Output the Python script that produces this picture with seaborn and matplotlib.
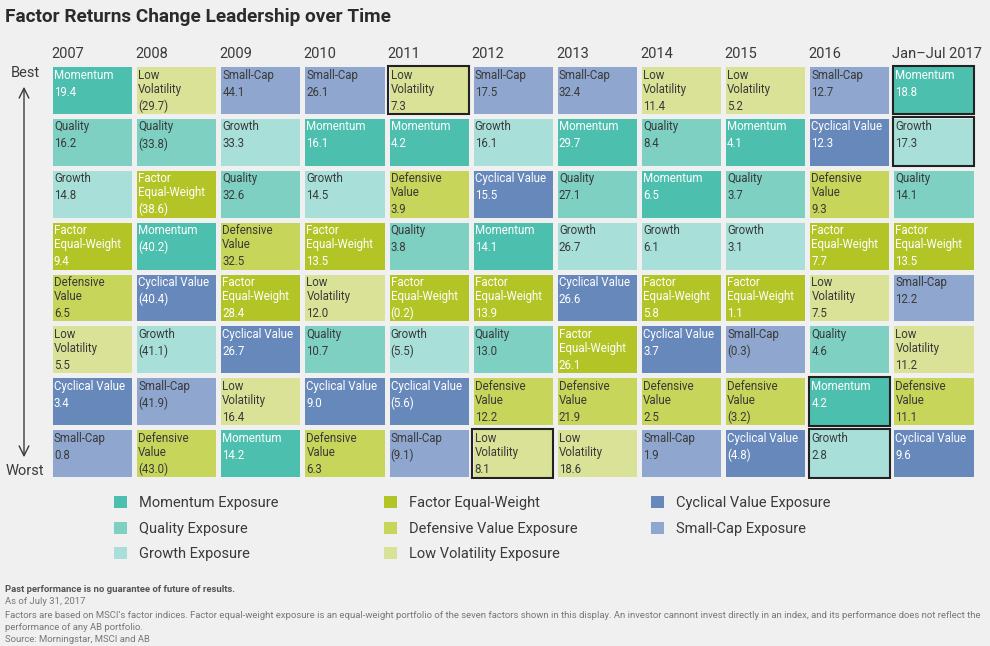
import matplotlib
matplotlib.use("Agg")
import matplotlib.pyplot as plt
from matplotlib.colors import ListedColormap
from matplotlib.patches import Rectangle, Patch
import numpy as np
import pandas as pd
import seaborn as sns

# factor codes, display names and colours
codes = ["MO", "QU", "GR", "FE", "DV", "LV", "CV", "SC"]
cell_names = ["Momentum", "Quality", "Growth", "Factor\nEqual-Weight",
              "Defensive\nValue", "Low\nVolatility", "Cyclical Value", "Small-Cap"]
legend_labels = ["Momentum Exposure", "Quality Exposure", "Growth Exposure",
                 "Factor Equal-Weight", "Defensive Value Exposure",
                 "Low Volatility Exposure", "Cyclical Value Exposure",
                 "Small-Cap Exposure"]
factor_colors = ["#4cbfae", "#7ed0c3", "#a8e0d9", "#b3c526",
                 "#c8d55b", "#d9e296", "#6788bb", "#8fa7cf"]
light_text = ["MO", "FE", "CV"]

years = ["2007", "2008", "2009", "2010", "2011", "2012", "2013",
         "2014", "2015", "2016", "Jan\u2013Jul 2017"]

# ranking best -> worst, and returns (%) in the same order
rank_2007 = ["MO", "QU", "GR", "FE", "DV", "LV", "CV", "SC"]
ret_2007 = [19.4, 16.2, 14.8, 9.4, 6.5, 5.5, 3.4, 0.8]
rank_2008 = ["LV", "QU", "FE", "MO", "CV", "GR", "SC", "DV"]
ret_2008 = [-29.7, -33.8, -38.6, -40.2, -40.4, -41.1, -41.9, -43.0]
rank_2009 = ["SC", "GR", "QU", "DV", "FE", "CV", "LV", "MO"]
ret_2009 = [44.1, 33.3, 32.6, 32.5, 28.4, 26.7, 16.4, 14.2]
rank_2010 = ["SC", "MO", "GR", "FE", "LV", "QU", "CV", "DV"]
ret_2010 = [26.1, 16.1, 14.5, 13.5, 12.0, 10.7, 9.0, 6.3]
rank_2011 = ["LV", "MO", "DV", "QU", "FE", "GR", "CV", "SC"]
ret_2011 = [7.3, 4.2, 3.9, 3.8, -0.2, -5.5, -5.6, -9.1]
rank_2012 = ["SC", "GR", "CV", "MO", "FE", "QU", "DV", "LV"]
ret_2012 = [17.5, 16.1, 15.5, 14.1, 13.9, 13.0, 12.2, 8.1]
rank_2013 = ["SC", "MO", "QU", "GR", "CV", "FE", "DV", "LV"]
ret_2013 = [32.4, 29.7, 27.1, 26.7, 26.6, 26.1, 21.9, 18.6]
rank_2014 = ["LV", "QU", "MO", "GR", "FE", "CV", "DV", "SC"]
ret_2014 = [11.4, 8.4, 6.5, 6.1, 5.8, 3.7, 2.5, 1.9]
rank_2015 = ["LV", "MO", "QU", "GR", "FE", "SC", "DV", "CV"]
ret_2015 = [5.2, 4.1, 3.7, 3.1, 1.1, -0.3, -3.2, -4.8]
rank_2016 = ["SC", "CV", "DV", "FE", "LV", "QU", "MO", "GR"]
ret_2016 = [12.7, 12.3, 9.3, 7.7, 7.5, 4.6, 4.2, 2.8]
rank_2017 = ["MO", "GR", "QU", "FE", "SC", "LV", "DV", "CV"]
ret_2017 = [18.8, 17.3, 14.1, 13.5, 12.2, 11.2, 11.1, 9.6]

# outlined cells (year index, factor code)
highlighted = [(4, "LV"), (5, "LV"), (9, "MO"), (9, "GR"), (10, "MO"), (10, "GR")]

ranks = [rank_2007, rank_2008, rank_2009, rank_2010, rank_2011, rank_2012,
         rank_2013, rank_2014, rank_2015, rank_2016, rank_2017]
rets = [ret_2007, ret_2008, ret_2009, ret_2010, ret_2011, ret_2012,
        ret_2013, ret_2014, ret_2015, ret_2016, ret_2017]

bg = "#f0f0f0"
dark = "#3a3a3a"
sns.set_style("white")
plt.rcParams["font.family"] = ["Roboto", "DejaVu Sans"]

idx = np.array([[codes.index(c) for c in r] for r in ranks]).T
df = pd.DataFrame(idx, columns=years)

fig = plt.figure(figsize=(9.9, 6.46), dpi=100, facecolor=bg)
ax = fig.add_axes([0.0505, 0.2585, 0.935, 0.6424])
sns.heatmap(df, cmap=ListedColormap(factor_colors), vmin=-0.5, vmax=7.5,
            cbar=False, linewidths=2.2, linecolor=bg,
            xticklabels=False, yticklabels=False, ax=ax)
ax.set_facecolor(bg)

px_x = 0.935 * 990 / 11
px_y = 0.6424 * 646 / 8
cell_fs = 8.3

for c, (rk, rt) in enumerate(zip(ranks, rets)):
    for r, (code, v) in enumerate(zip(rk, rt)):
        i = codes.index(code)
        col = "white" if code in light_text else dark
        lines = cell_names[i].split("\n")
        x0 = c + 4 / px_x
        for k, ln in enumerate(lines):
            ax.text(x0, r + (11 + 14 * k) / px_y, ln, ha="left", va="center",
                    fontsize=cell_fs, color=col)
        val = f"{v:.1f}" if v >= 0 else f"({-v:.1f})"
        ax.text(x0, r + (12 + 14 * len(lines) + 2) / px_y, val, ha="left",
                va="center", fontsize=cell_fs, color=col)

for c, code in highlighted:
    r = ranks[c].index(code)
    ax.add_patch(Rectangle((c + 1.5 / px_x, r + 1.5 / px_y),
                           1 - 3 / px_x, 1 - 3 / px_y, fill=False,
                           edgecolor="#222222", lw=1.5, zorder=5))

for c, y in enumerate(years):
    ax.text(c + 1 / px_x, -0.19, y, ha="left", va="center", fontsize=10.5,
            color=dark, clip_on=False)

# best / worst axis
fig.text(25 / 990, 1 - 73 / 646, "Best", ha="center", va="center",
         fontsize=10.5, color=dark)
fig.text(25 / 990, 1 - 471 / 646, "Worst", ha="center", va="center",
         fontsize=10.5, color=dark)
ax.annotate("", xy=(24 / 990, 1 - 84 / 646), xytext=(24 / 990, 1 - 460 / 646),
            xycoords="figure fraction", textcoords="figure fraction",
            arrowprops=dict(arrowstyle="<->,head_length=0.7,head_width=0.35",
                            color=dark, lw=1.0))

# legend: three columns
col_x = [108, 378, 645]
for k, start in enumerate([0, 3, 6]):
    items = range(start, min(start + 3, len(codes)))
    handles = [Patch(facecolor=factor_colors[i], edgecolor="none") for i in items]
    labels = [legend_labels[i] for i in items]
    fig.legend(handles, labels, loc="upper left",
               bbox_to_anchor=(col_x[k] / 990, 1 - 490 / 646),
               frameon=False, fontsize=10.5, handlelength=0.9, handleheight=0.9,
               handletextpad=0.8, labelspacing=0.8, labelcolor=dark,
               borderaxespad=0)

fig.text(5 / 990, 1 - 17 / 646, "Factor Returns Change Leadership over Time",
         ha="left", va="center", fontsize=13.7, fontweight="bold", color="#2b2b2b")

foot = "#777777"
fs_foot = 6.8
fig.text(5 / 990, 1 - 589 / 646, "Past performance is no guarantee of future of results.",
         ha="left", va="center", fontsize=fs_foot, fontweight="bold", color="#555555")
fig.text(5 / 990, 1 - 602 / 646, "As of July 31, 2017", ha="left", va="center",
         fontsize=fs_foot, color=foot)
fig.text(5 / 990, 1 - 615 / 646,
         "Factors are based on MSCI\u2019s factor indices. Factor equal-weight exposure is an "
         "equal-weight portfolio of the seven factors shown in this display. An investor cannont "
         "invest directly in an index, and its performance does not reflect the",
         ha="left", va="center", fontsize=fs_foot, color=foot)
fig.text(5 / 990, 1 - 628 / 646, "performance of any AB portfolio.", ha="left",
         va="center", fontsize=fs_foot, color=foot)
fig.text(5 / 990, 1 - 640 / 646, "Source: Morningstar, MSCI and AB", ha="left",
         va="center", fontsize=fs_foot, color=foot)

fig.savefig("out.png", dpi=100, facecolor=bg)
